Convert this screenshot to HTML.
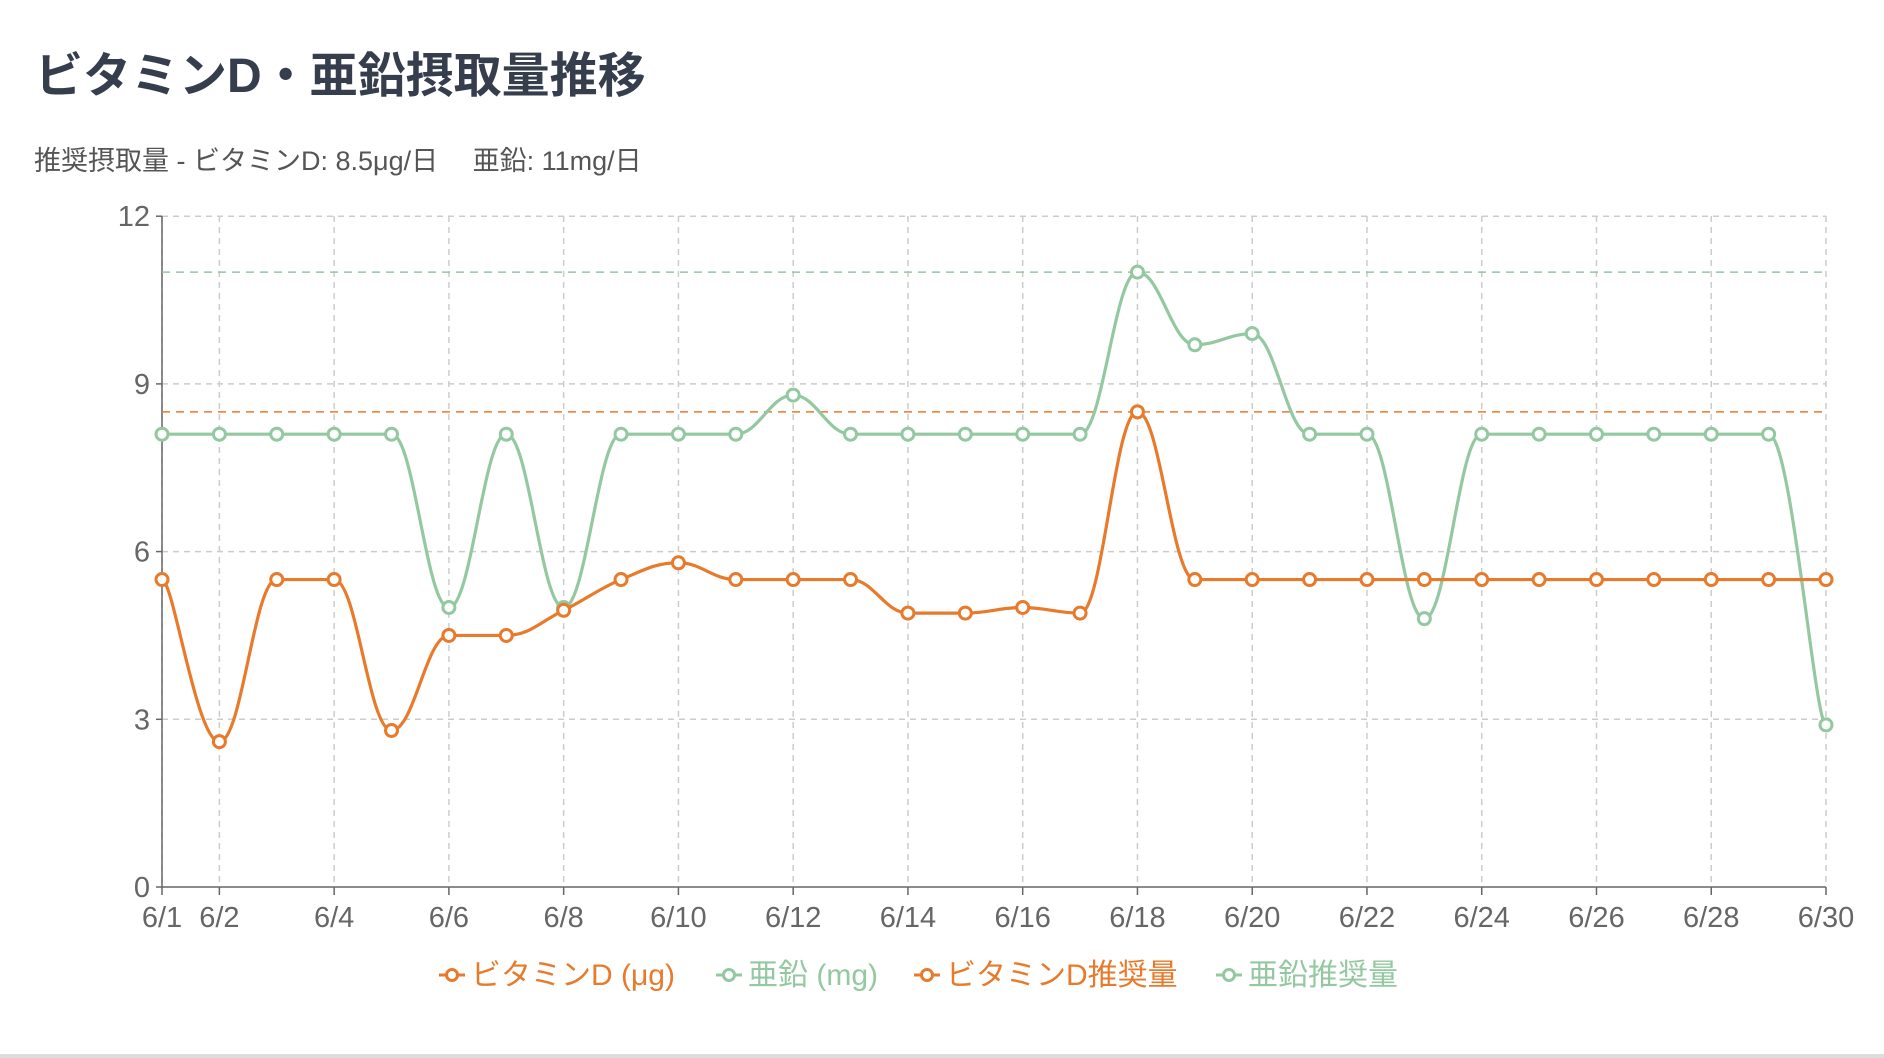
<!DOCTYPE html>
<html><head><meta charset="utf-8"><style>
body{margin:0;width:1884px;height:1058px;background:#fff;overflow:hidden;font-family:"Liberation Sans","Noto Sans CJK JP",sans-serif;}
.t{position:absolute;left:35px;top:36px;font-size:48px;font-weight:bold;color:#363d4c;}
.s{position:absolute;left:34px;top:139px;font-size:27px;color:#555;}
.bar{position:absolute;left:0;top:1054px;width:1884px;height:4px;background:#ddd;}
</style></head><body>
<div class="t">ビタミンD・亜鉛摂取量推移</div>
<div class="s">推奨摂取量 - ビタミンD: 8.5μg/日　 亜鉛: 11mg/日</div>
<svg id="c" width="1884" height="1058" style="position:absolute;left:0;top:0"></svg>
<div class="bar"></div>
<script>
const X0=162,X1=1826,Y0=887,U=55.9;
const vd=[5.5,2.6,5.5,5.5,2.8,4.5,4.5,4.95,5.5,5.8,5.5,5.5,5.5,4.9,4.9,5.0,4.9,8.5,5.5,5.5,5.5,5.5,5.5,5.5,5.5,5.5,5.5,5.5,5.5,5.5];
const zn=[8.1,8.1,8.1,8.1,8.1,5.0,8.1,5.0,8.1,8.1,8.1,8.8,8.1,8.1,8.1,8.1,8.1,11,9.7,9.9,8.1,8.1,4.8,8.1,8.1,8.1,8.1,8.1,8.1,2.9];
const px=i=>X0+(X1-X0)*i/29, py=v=>Y0-v*U;
const O="#e87a2c",G="#93c8a0";
let s="";
[3,6,9,12].forEach(v=>{s+=`<line x1="${X0}" x2="${X1}" y1="${py(v)}" y2="${py(v)}" stroke="#ccc" stroke-width="1.5" stroke-dasharray="6,5"/>`;});
const lab=[0,1,3,5,7,9,11,13,15,17,19,21,23,25,27,29];
lab.forEach(i=>{const x=px(i);s+=`<line x1="${x}" x2="${x}" y1="216" y2="${Y0}" stroke="#ccc" stroke-width="1.5" stroke-dasharray="6,5"/>`;
s+=`<line x1="${x}" x2="${x}" y1="${Y0}" y2="${Y0+8}" stroke="#666" stroke-width="1.5"/>`;
let anc="middle",xx=x; if(i==0){anc="middle";} 
s+=`<text x="${xx}" y="${Y0+40}" font-size="29" fill="#666" text-anchor="${anc}">6/${i+1}</text>`;});
[0,3,6,9,12].forEach(v=>{s+=`<text x="${X0-12}" y="${py(v)+10}" font-size="29" fill="#666" text-anchor="end">${v}</text><line x1="${X0-6}" x2="${X0}" y1="${py(v)}" y2="${py(v)}" stroke="#666" stroke-width="1.5"/>`;});
s+=`<line x1="${X0}" x2="${X0}" y1="216" y2="${Y0}" stroke="#666" stroke-width="1.5"/><line x1="${X0}" x2="${X1}" y1="${Y0}" y2="${Y0}" stroke="#666" stroke-width="1.5"/>`;
s+=`<line x1="${X0}" x2="${X1}" y1="${py(8.5)}" y2="${py(8.5)}" stroke="${O}" stroke-width="1.5" stroke-dasharray="8,6"/>`;
s+=`<line x1="${X0}" x2="${X1}" y1="${py(11)}" y2="${py(11)}" stroke="${G}" stroke-width="1.5" stroke-dasharray="8,6"/>`;
function cl(v,a,b){return Math.min(Math.max(v,Math.min(a,b)),Math.max(a,b));}
function path(d){const p=d.map((v,i)=>[px(i),py(v)]);let r=`M${p[0][0]},${p[0][1]}`;const k=0.2;
for(let i=0;i<p.length-1;i++){const a=p[Math.max(0,i-1)],b=p[i],c=p[i+1],e=p[Math.min(p.length-1,i+2)];
let c1=[b[0]+(c[0]-a[0])*k,b[1]+(c[1]-a[1])*k],c2=[c[0]-(e[0]-b[0])*k,c[1]-(e[1]-b[1])*k];
if((b[1]-a[1])*(c[1]-b[1])<=0)c1[1]=b[1];
if((c[1]-b[1])*(e[1]-c[1])<=0)c2[1]=c[1];
c1[1]=cl(c1[1],b[1],c[1]);c2[1]=cl(c2[1],b[1],c[1]);
r+=` C${c1[0]},${c1[1]} ${c2[0]},${c2[1]} ${c[0]},${c[1]}`;}return r;}
function series(d,col){s+=`<path d="${path(d)}" fill="none" stroke="${col}" stroke-width="3.2"/>`;d.forEach((v,i)=>{s+=`<circle cx="${px(i)}" cy="${py(v)}" r="6" fill="#fff" stroke="${col}" stroke-width="3"/>`;});}
series(zn,G);series(vd,O);
const L=[["ビタミンD (μg)",O,439],["亜鉛 (mg)",G,716],["ビタミンD推奨量",O,914],["亜鉛推奨量",G,1216]];
L.forEach(([t,c,x])=>{s+=`<line x1="${x}" x2="${x+26}" y1="975" y2="975" stroke="${c}" stroke-width="3"/><circle cx="${x+13}" cy="975" r="5.5" fill="#fff" stroke="${c}" stroke-width="3"/><text x="${x+32}" y="985" font-size="30" fill="${c}">${t}</text>`;});
document.getElementById("c").innerHTML=s;
</script>
</body></html>
